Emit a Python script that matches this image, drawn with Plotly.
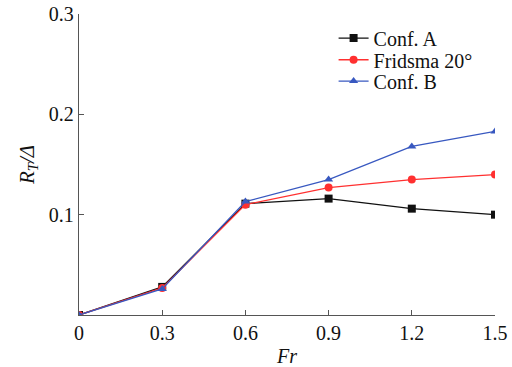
import plotly.graph_objects as go

# Froude numbers and non-dimensional total resistance R_T/Δ
fr = [0, 0.3, 0.6, 0.9, 1.2, 1.5]
conf_a = [0.0, 0.028, 0.111, 0.116, 0.106, 0.100]
fridsma_20 = [0.0, 0.027, 0.110, 0.127, 0.135, 0.140]
conf_b = [0.0, 0.026, 0.113, 0.135, 0.168, 0.183]

x_ticks = [0, 0.3, 0.6, 0.9, 1.2, 1.5]
x_tick_text = ["0", "0.3", "0.6", "0.9", "1.2", "1.5"]
y_ticks = [0.1, 0.2, 0.3]
y_tick_text = ["0.1", "0.2", "0.3"]

FONT = "Liberation Serif"
AXIS_COLOR = "#555555"

# name, values, colour, marker symbol, legend id, legend row position
series = [
    ("Conf. A", conf_a, "#111111", "square", "legend", 0.920),
    ("Fridsma 20°", fridsma_20, "#ff3030", "circle", "legend2", 0.848),
    ("Conf. B", conf_b, "#3858c0", "triangle-up", "legend3", 0.777),
]

fig = go.Figure()
legends = {}
for name, vals, color, symbol, leg, ly in series:
    fig.add_trace(go.Scatter(
        x=fr, y=vals, name=name, mode="lines+markers",
        line=dict(color=color, width=1.3),
        marker=dict(symbol=symbol, size=8, color=color),
        cliponaxis=True, legend=leg,
    ))
    legends[leg] = dict(
        x=0.612, y=ly, xanchor="left", yanchor="middle",
        bgcolor="rgba(0,0,0,0)", borderwidth=0,
        font=dict(family=FONT, size=20, color="#111111"),
    )

fig.update_layout(
    width=512, height=367,
    margin=dict(l=79, r=17, t=14, b=52),
    paper_bgcolor="white", plot_bgcolor="white",
    font=dict(family=FONT, size=20, color="#111111"),
    showlegend=True,
    xaxis=dict(
        range=[0, 1.5], tickvals=x_ticks, ticktext=x_tick_text,
        ticks="inside", ticklen=5, tickcolor=AXIS_COLOR, tickwidth=1.3,
        showline=True, linecolor=AXIS_COLOR, linewidth=1.3,
        showgrid=False, zeroline=False, automargin=False,
        title=dict(text="<i>Fr</i>", standoff=6, font=dict(size=20)),
    ),
    yaxis=dict(
        range=[0, 0.3], tickvals=y_ticks, ticktext=y_tick_text,
        ticks="inside", ticklen=5, tickcolor=AXIS_COLOR, tickwidth=1.3,
        showline=True, linecolor=AXIS_COLOR, linewidth=1.3,
        showgrid=False, zeroline=False, automargin=False,
        title=dict(text="<i>R</i><sub><i>T</i></sub><i>/Δ</i>", standoff=8, font=dict(size=21)),
    ),
    **legends,
)

fig.write_html("out.html")
